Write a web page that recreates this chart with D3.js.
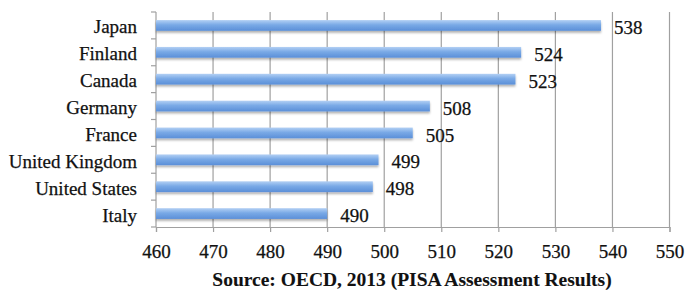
<!DOCTYPE html>
<html>
<head>
<meta charset="utf-8">
<script src="https://cdn.jsdelivr.net/npm/d3@7"></script>
<style>
  body { margin: 0; background: #fff; }
  svg text { font-family: "Liberation Serif", "DejaVu Serif", serif; fill: #111; stroke: #111; stroke-width: 0.25px; }
</style>
</head>
<body>
<svg id="chart" width="686" height="290"></svg>
<script>
const countries = ["Japan", "Finland", "Canada", "Germany", "France", "United Kingdom", "United States", "Italy"];
const scores = [538, 524, 523, 508, 505, 499, 498, 490];
const xTicks = [460, 470, 480, 490, 500, 510, 520, 530, 540, 550];
const caption = "Source: OECD, 2013 (PISA Assessment Results)";

const svg = d3.select("#chart");
const plotLeft = 156, plotRight = 669.5, plotTop = 12, plotBottom = 227;
const fs = 19;

const x = d3.scaleLinear().domain([460, 550]).range([plotLeft, plotRight]);
const y = d3.scaleBand().domain(countries).range([plotTop, plotBottom]).paddingInner(0.6).paddingOuter(0.3);

// gradient + shadow for the bars
const defs = svg.append("defs");
const grad = defs.append("linearGradient").attr("id", "barGrad")
    .attr("x1", 0).attr("y1", 0).attr("x2", 0).attr("y2", 1);
grad.append("stop").attr("offset", "0%").attr("stop-color", "#b3d0f4");
grad.append("stop").attr("offset", "45%").attr("stop-color", "#79a9e6");
grad.append("stop").attr("offset", "100%").attr("stop-color", "#5b8fd8");
const f = defs.append("filter").attr("id", "shadow").attr("x", "-5%").attr("y", "-50%").attr("width", "110%").attr("height", "220%");
f.append("feDropShadow").attr("dx", 0).attr("dy", 2).attr("stdDeviation", 1.2).attr("flood-color", "#000").attr("flood-opacity", 0.3);

// vertical grid lines
svg.append("g").selectAll("line").data(xTicks.slice(1)).join("line")
    .attr("x1", d => x(d)).attr("x2", d => x(d))
    .attr("y1", plotTop).attr("y2", plotBottom)
    .attr("stroke", "#a0a0a0").attr("stroke-width", 1.2);

// bottom axis
const xAxis = svg.append("g").attr("transform", `translate(0,${plotBottom})`)
    .call(d3.axisBottom(x).tickValues(xTicks).tickSize(5));
xAxis.select(".domain").attr("stroke", "#a0a0a0").attr("stroke-width", 1.2);
xAxis.selectAll(".tick line").attr("stroke", "#a0a0a0").attr("stroke-width", 1.2);
xAxis.selectAll("text").attr("font-size", fs).attr("font-family", null).attr("fill", "#111")
    .attr("y", 31).attr("dy", null);

// left axis line with boundary ticks
const bounds = d3.range(countries.length + 1).map(i => plotTop + i * (plotBottom - plotTop) / countries.length);
svg.append("line").attr("x1", plotLeft).attr("x2", plotLeft).attr("y1", plotTop).attr("y2", plotBottom)
    .attr("stroke", "#a0a0a0").attr("stroke-width", 1.2);
svg.append("g").selectAll("line").data(bounds).join("line")
    .attr("x1", plotLeft - 5).attr("x2", plotLeft).attr("y1", d => d).attr("y2", d => d)
    .attr("stroke", "#a0a0a0").attr("stroke-width", 1.2);

// bars
svg.append("g").selectAll("rect").data(countries).join("rect")
    .attr("x", x(460))
    .attr("y", d => y(d))
    .attr("width", (d, i) => x(scores[i]) - x(460))
    .attr("height", y.bandwidth())
    .attr("fill", "url(#barGrad)")
    .attr("filter", "url(#shadow)");

// value labels
svg.append("g").selectAll("text").data(countries).join("text")
    .attr("x", (d, i) => x(scores[i]) + 13)
    .attr("y", d => y(d) + y.bandwidth() / 2 + 1)
    .attr("dy", "0.4em")
    .attr("font-size", fs)
    .text((d, i) => scores[i]);

// category labels
svg.append("g").selectAll("text").data(countries).join("text")
    .attr("x", 137)
    .attr("y", d => y(d) + y.bandwidth() / 2)
    .attr("dy", "0.42em")
    .attr("text-anchor", "end")
    .attr("font-size", fs)
    .text(d => d);

svg.append("text")
    .attr("x", 412).attr("y", 286)
    .attr("text-anchor", "middle")
    .style("stroke-width", "0.1px")
    .attr("font-size", 19.5).attr("font-weight", "bold")
    .text(caption);
</script>
</body>
</html>
